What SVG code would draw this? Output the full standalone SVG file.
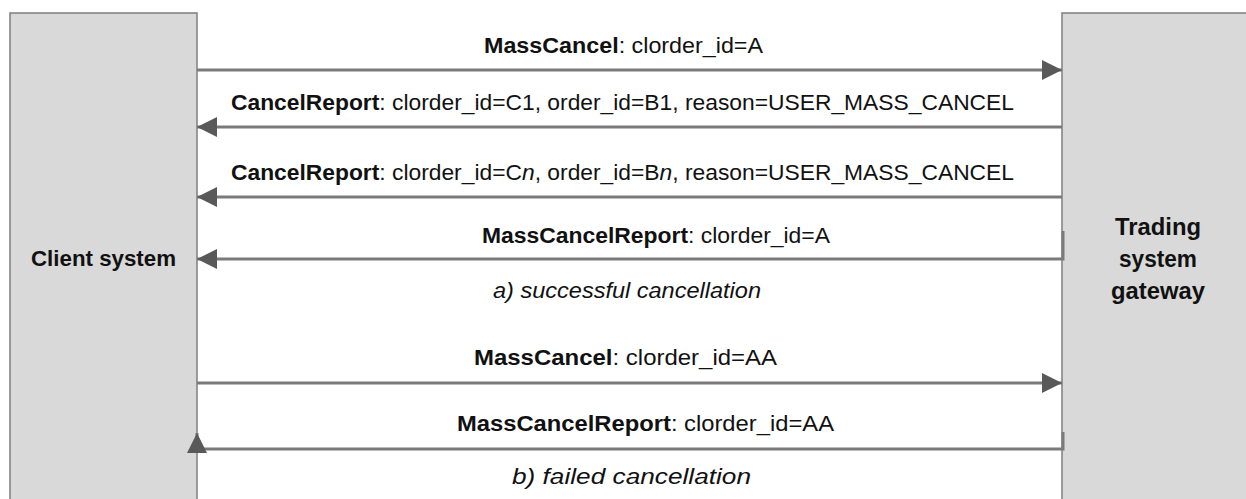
<svg xmlns="http://www.w3.org/2000/svg" width="1246" height="499" viewBox="0 0 1246 499">
<style>
.box{fill:#d9d9d9;stroke:#7f7f7f;stroke-width:1.5}
.ln{fill:none;stroke:#7a7a7a;stroke-width:3}
.t{font-family:"Liberation Sans",Arial,sans-serif;font-size:22px;fill:#111}
.g{font-size:23px}
.b{font-weight:bold}
.i{font-style:italic}
</style>
<defs>
<marker id="ah" markerUnits="userSpaceOnUse" markerWidth="20" markerHeight="20" viewBox="0 0 20 20" refX="20" refY="10" orient="auto">
<path d="M0,0 L20,10 L0,20 Z" fill="#595959"/>
</marker>
</defs>
<rect width="1246" height="499" fill="#fff"/>
<g id="client">
<rect class="box" x="10" y="13" width="187" height="500"/>
<text class="t b" x="103.5" y="266" text-anchor="middle" textLength="145" lengthAdjust="spacingAndGlyphs">Client system</text>
</g>
<g id="gateway">
<rect class="box" x="1062" y="13" width="200" height="500"/>
<text class="t g b" x="1158" y="235" text-anchor="middle" textLength="86" lengthAdjust="spacingAndGlyphs">Trading</text>
<text class="t g b" x="1158" y="267" text-anchor="middle" textLength="78" lengthAdjust="spacingAndGlyphs">system</text>
<text class="t g b" x="1158" y="299" text-anchor="middle" textLength="94" lengthAdjust="spacingAndGlyphs">gateway</text>
</g>
<g id="connectors">
<path class="ln" d="M197,70 H1062" marker-end="url(#ah)"/>
<path class="ln" d="M1062,127 H197" marker-end="url(#ah)"/>
<path class="ln" d="M1062,197 H197" marker-end="url(#ah)"/>
<path class="ln" d="M1063,231 V259 H197" marker-end="url(#ah)"/>
<path class="ln" d="M197,383 H1062" marker-end="url(#ah)"/>
<path class="ln" d="M1063,432 V449 H197 V433" marker-end="url(#ah)"/>
</g>
<g id="labels">
<text class="t" x="484" y="53" textLength="279" lengthAdjust="spacingAndGlyphs"><tspan class="b">MassCancel</tspan>: clorder_id=A</text>
<text class="t" x="231" y="110" textLength="783" lengthAdjust="spacingAndGlyphs"><tspan class="b">CancelReport</tspan>: clorder_id=C1, order_id=B1, reason=USER_MASS_CANCEL</text>
<text class="t" x="231" y="180" textLength="783" lengthAdjust="spacingAndGlyphs"><tspan class="b">CancelReport</tspan>: clorder_id=C<tspan class="i">n</tspan>, order_id=B<tspan class="i">n</tspan>, reason=USER_MASS_CANCEL</text>
<text class="t" x="482" y="243" textLength="348" lengthAdjust="spacingAndGlyphs"><tspan class="b">MassCancelReport</tspan>: clorder_id=A</text>
<text class="t i" x="493" y="298" textLength="268" lengthAdjust="spacingAndGlyphs">a) successful cancellation</text>
<text class="t" x="474" y="365" textLength="303" lengthAdjust="spacingAndGlyphs"><tspan class="b">MassCancel</tspan>: clorder_id=AA</text>
<text class="t" x="457" y="431" textLength="377" lengthAdjust="spacingAndGlyphs"><tspan class="b">MassCancelReport</tspan>: clorder_id=AA</text>
<text class="t i" x="512" y="484" textLength="239" lengthAdjust="spacingAndGlyphs">b) failed cancellation</text>
</g>
</svg>
